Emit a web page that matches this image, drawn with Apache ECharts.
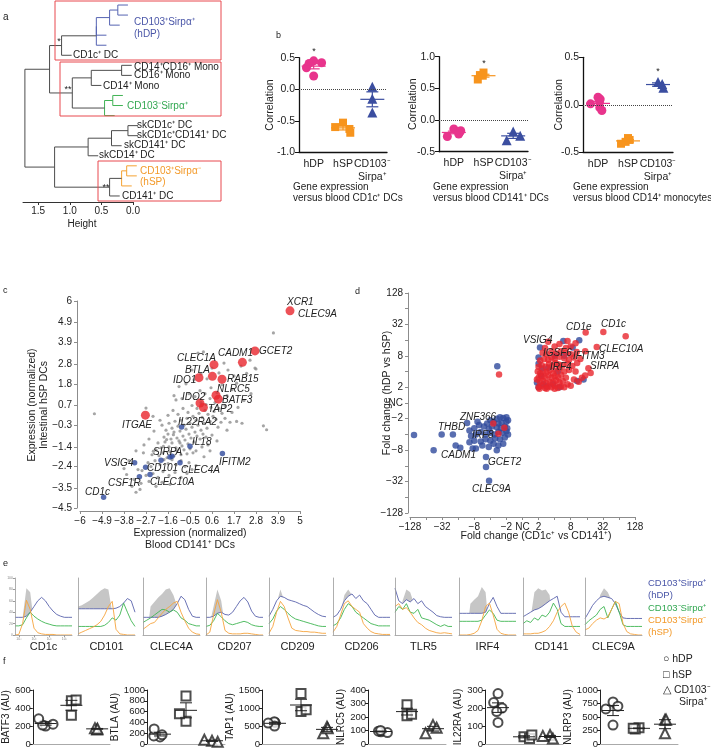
<!DOCTYPE html>
<html><head><meta charset="utf-8">
<script src="https://cdn.jsdelivr.net/npm/echarts@6/dist/echarts.min.js"></script>
<style>html,body{margin:0;padding:0;background:#fff}#c{width:711px;height:750px}</style>
</head><body><div id="c"></div>
<script>
const FONT = "'Liberation Sans', Arial, Helvetica, sans-serif";
const fnt = (s, it) => (it ? 'italic ' : '') + s + 'px ' + FONT;

// ================= DATA =================
// ---- a: dendrogram (20 leaves, merge heights) ----
const dendroNodes = [
  ['n1', 0.24, [0, 1], 'hDP'],
  ['n2', 0.37, ['n1', 2], 'hDP'],
  ['n3', 0.58, ['n2', 3], 'hDP'],
  ['n4', 0.58, ['n3', 4], 'hDP'],
  ['star', 1.13, ['n4', 5], ''],
  ['m1', 0.18, [6, 7], ''],
  ['m2', 0.66, ['m1', 8], ''],
  ['gA', 0.32, [9, 10], 'DN'],
  ['gB', 0.45, ['gA', 11], 'DN'],
  ['dstar', 0.96, ['m2', 'gB'], ''],
  ['upper', 1.32, ['star', 'dstar'], ''],
  ['sA', 0.08, [12, 13], ''],
  ['sB', 0.34, ['sA', 14], ''],
  ['sC', 0.71, ['sB', 15], ''],
  ['oA', 0.10, [16, 17], 'hSP'],
  ['oB', 0.18, ['oA', 18], 'hSP'],
  ['hsp', 0.37, ['oB', 19], ''],
  ['lower', 1.24, ['sC', 'hsp'], ''],
  ['root', 1.71, ['upper', 'lower'], '']
];
const leafHang = 0.16;
const heightTicks = [0, 0.5, 1.0, 1.5];

// ---- b: correlations ----
const bCategories = ['hDP', 'hSP', 'CD103⁻\nSirpa⁺'];
const b1HDP = [0.45, 0.42, 0.41, 0.34, 0.21];
const b1HSP = [-0.53, -0.60, -0.63, -0.69];
const b1DN  = [0.04, -0.15, -0.37];
const b2HDP = [-0.14, -0.17, -0.19, -0.22, -0.26];
const b2HSP = [0.75, 0.71, 0.70, 0.64];
const b2DN  = [-0.18, -0.25, -0.32];
const b3HDP = [0.08, 0.06, 0.03, 0.01, -0.03, -0.06];
const b3HSP = [-0.35, -0.37, -0.39, -0.41];
const b3DN  = [0.24, 0.22, 0.18];
const bYRange = [[-1, 0.5], [-0.5, 1], [-0.5, 0.5]];
const bCaptions = ['versus blood CD1c⁺ DCs', 'versus blood CD141⁺ DCs', 'versus blood CD14⁺ monocytes'];

// ---- c: expression scatter ----
const cXTicks = [-6, -4.9, -3.8, -2.7, -1.6, -0.5, 0.6, 1.7, 2.8, 3.9, 5];
const cYTicks = [-4.5, -3.5, -2.4, -1.4, -0.3, 0.7, 1.8, 2.8, 3.9, 4.9, 6];
const cGray = [
[-5.28,0.28],[-2.70,0.57],[-1.20,0.98],[-1.05,1.66],[0.17,3.42],[-0.10,3.36],[1.40,2.50],[2.50,3.00],[2.75,2.60],[2.80,2.55],[2.33,2.33],[3.67,4.38],[3.33,-0.53],[3.17,-0.33],[1.50,-0.15],[1.83,-0.11],[2.10,-0.20],[1.83,1.83],
[-3.67,-2.80],[-3.00,-3.56],[-3.10,-2.55],[-2.83,-1.70],[-2.33,-1.62],[-1.83,-1.37],[-1.67,-1.03],[-1.33,-0.78],[-1.00,-1.20],
[-1.90,-0.30],[-1.70,-0.55],[-1.55,-0.20],[-1.40,-0.45],[-1.25,-0.10],[-1.10,-0.35],[-0.95,-0.05],[-0.80,-0.30],[-0.65,0.05],[-0.50,-0.20],[-0.35,0.15],[-0.20,-0.05],[-0.05,0.30],[0.10,0.10],[0.25,0.45],[0.40,0.25],[0.55,0.60],[0.70,0.40],
[-1.80,-0.90],[-1.60,-0.75],[-1.45,-1.00],[-1.30,-0.65],[-1.15,-0.95],[-1.00,-0.60],[-0.85,-0.85],[-0.70,-0.50],[-0.55,-0.75],[-0.40,-0.40],[-0.25,-0.65],[-0.10,-0.30],[0.05,-0.55],[0.20,-0.20],[0.35,-0.45],[0.50,-0.10],[0.65,0.15],[0.80,0.00],
[-2.10,-1.20],[-1.95,-1.45],[-1.75,-1.15],[-1.55,-1.40],[-1.40,-1.20],[-1.20,-1.45],[-1.05,-1.10],[-0.90,-1.35],[-0.75,-1.05],[-0.60,-1.25],[-0.45,-0.95],[-0.30,-1.15],[-0.15,-0.85],[0.00,-1.00],[0.15,-0.75],[0.30,-0.90],
[-2.40,-1.80],[-2.20,-1.55],[-2.05,-1.85],[-1.85,-1.70],[-1.65,-1.95],[-1.50,-1.65],[-1.30,-1.85],[-1.15,-1.60],[-0.95,-1.80],[-0.80,-1.55],[-0.65,-1.75],[-0.50,-1.50],[-0.35,-1.70],
[-2.60,-2.20],[-2.45,-2.40],[-2.25,-2.10],[-2.00,-2.30],[-1.80,-2.05],[-1.60,-2.25],[-1.40,-2.05],[-1.20,-2.30],[-0.95,-2.10],[-0.75,-2.40],[-0.55,-2.20],[-0.40,-2.55],[-0.20,-2.35],
[-2.90,-2.60],[-2.70,-2.85],[-2.35,-2.75],[-2.10,-2.95],[-1.85,-2.65],[-1.55,-2.85],[-1.25,-2.70],[-0.95,-2.95],[-0.65,-2.75],
[-3.30,-3.05],[-2.95,-3.25],[-2.55,-3.15],[-2.20,-3.40],[-1.90,-3.20],[-1.50,-3.30],[-3.20,-3.70],
[-1.60,0.20],[-1.35,0.45],[-1.10,0.25],[-0.85,0.55],[-0.60,0.35],[-0.40,0.70],[-0.15,0.55],[0.05,0.85],[0.30,0.75],[0.50,1.05],[0.75,0.85],[0.95,0.55],[1.10,0.30],[1.25,0.70],
[-1.30,1.20],[-0.90,1.05],[-0.55,1.30],[-0.25,1.15],[0.00,1.45],[0.25,1.30],[0.55,1.60],[0.85,1.35],[1.10,1.75],[1.35,1.20],[1.60,1.50],
[-0.70,1.80],[-0.30,2.00],[0.05,2.30],[0.35,2.05],[0.95,2.35],[1.20,2.85],[1.70,2.20],[2.05,2.70],[0.60,2.60],[-0.40,2.50],
[0.90,-0.40],[1.05,-0.15],[1.25,0.05],[1.35,-0.55],[1.60,0.35],[1.90,0.60],[2.20,0.95],[2.55,1.30],[0.60,-0.80],[0.85,-1.10],[0.40,-1.30],[0.10,-1.40],[-0.20,-1.60],[0.20,-1.90],[0.50,-1.60],
[-2.30,-0.60],[-2.55,-1.00],[-2.80,-1.30],[-3.20,-1.60],[-2.00,-0.05],[-2.35,0.15],[-3.55,-2.10],[-3.80,-2.50],[-3.40,-3.40]
];
const cRed = [['XCR1',4.5,5.5],['CLEC9A',5.05,4.89],['GCET2',2.75,3.47],['CADM1',2.12,2.89],['CLEC1A',0.7,2.77],['BTLA',0.62,2.18],['IDO1',-0.05,2.11],['RAB15',1.1,2.03],['NLRC5',0.8,1.22],['BATF3',0.92,1.02],['IDO2',0.0,0.82],['TAP2',0.17,0.6],['ITGAE',-2.73,0.21]];
const cBlue = [['IL22RA2',-0.92,-0.39],['IL18',-0.5,-1.37],['IFITM2',1.12,-1.74],['CLEC4A',-1.0,-2.21],['SIRPA',-1.5,-1.91],['SIRPA',-1.4,-1.87],['CD101',-2.72,-2.43],['CD101',-1.95,-2.08],['VSIG4',-3.27,-2.21],['CLEC10A',-2.5,-2.8],['CSF1R',-3.03,-2.92],['CD1c',-4.82,-3.96]];

// ---- d: fold changes (log2) ----
const dTickValues = [-7, -5, -3, -1, 0, 1, 3, 5, 7];
const dTickLabels = ['−128', '−32', '−8', '−2', 'NC', '2', '8', '32', '128'];
const dRed = [
[-1.46,1.81],[-1.82,-1.31],[-1.50,-1.95],[-1.13,-1.57],
[3.93,4.48],[5.03,4.52],[6.42,4.25],[4.62,3.57],[4.10,2.21],[4.24,1.91],[3.37,3.25],
[1.0,1.0],[1.2,1.1],[1.4,0.95],[1.6,1.05],[1.8,1.0],[2.0,1.1],[2.2,0.95],[2.4,1.05],[2.6,1.0],[1.1,1.3],[1.3,1.4],[1.5,1.25],[1.7,1.35],[1.9,1.3],[2.1,1.45],[2.3,1.3],[2.5,1.4],[2.8,1.2],[3.0,1.1],
[1.0,1.6],[1.2,1.7],[1.4,1.6],[1.6,1.75],[1.8,1.6],[2.0,1.7],[2.2,1.65],[2.4,1.8],[2.7,1.6],[3.2,1.5],[3.5,1.35],[1.1,1.9],[1.3,2.0],[1.5,1.95],[1.7,2.1],[1.9,1.9],[2.1,2.05],[2.3,2.2],[2.6,2.0],[2.9,2.1],[3.3,2.0],[3.7,1.6],[3.9,1.75],
[1.0,2.3],[1.2,2.4],[1.45,2.3],[1.65,2.5],[1.85,2.35],[2.05,2.55],[2.25,2.45],[2.5,2.4],[2.8,2.5],[3.1,2.35],[3.4,2.55],[1.1,2.7],[1.35,2.8],[1.6,2.75],[1.8,2.9],[2.0,2.8],[2.3,2.95],[2.6,2.85],[2.9,2.75],[3.2,2.9],
[3.0,3.1],[2.7,3.2],[2.4,3.3],[2.1,3.15],[1.8,3.3],[1.5,3.1],[1.25,3.2],[1.4,3.5],[2.0,3.6],[2.3,3.75],[2.7,3.5],[3.0,3.6],[1.6,3.9],[2.8,3.95],[3.3,3.8],[0.95,2.0],[0.9,1.5],[1.05,0.9],[1.5,0.9],[2.0,0.9],[3.6,2.8],[3.9,3.3]
];
const dBlue = [
[1.09,3.53],[2.54,3.95],[3.53,3.99],[3.12,3.53],[1.2,2.2],[1.0,2.5],[1.3,1.2],[1.0,1.0],[1.5,1.05],[1.9,1.2],[2.3,1.0],[3.4,1.4],[1.6,2.25],[2.6,3.0],[2.2,2.0],[1.15,1.75],[0.9,1.3],[1.0,2.9],[2.0,3.0],[3.8,1.5],
[-1.57,2.34],
[-1.0,-0.9],[-1.2,-0.95],[-1.4,-0.9],[-1.6,-1.0],[-1.0,-1.2],[-1.3,-1.25],[-1.5,-1.3],[-1.8,-1.2],[-2.0,-1.1],[-2.2,-1.3],[-1.1,-1.5],[-1.35,-1.6],[-1.6,-1.55],[-1.9,-1.5],[-2.1,-1.65],[-2.4,-1.5],[-2.7,-1.4],[-3.0,-1.6],[-1.0,-1.8],[-1.25,-1.9],[-1.5,-1.85],[-1.75,-2.0],[-2.0,-1.9],[-2.3,-2.0],[-2.6,-1.85],[-2.9,-2.0],[-3.2,-2.1],[-1.1,-2.2],[-1.4,-2.3],[-1.7,-2.25],[-2.0,-2.4],[-2.3,-2.3],[-2.6,-2.45],[-3.0,-2.4],[-3.3,-2.5],[-1.2,-2.6],[-1.5,-2.7],[-1.8,-2.6],[-2.1,-2.8],[-2.5,-2.7],[-2.9,-2.9],[-1.6,-3.0],[-2.27,-3.44],[-2.27,-4.08],[-3.87,-2.84],[-4.16,-2.7],[-4.33,-2.0],[-5.03,-2.0],[-6.75,-2.04],[-5.53,-3.01],[-3.45,-1.27],[-2.08,-4.94],[-2.8,-1.2],[-3.3,-1.75],[-3.1,-2.9],[-0.9,-1.1],[-0.95,-1.6],[-0.9,-2.0]
];

// ---- e: flow histograms (16 bins, % of panel height) ----
const eMarkers = ['CD1c','CD101','CLEC4A','CD207','CD209','CD206','TLR5','IRF4','CD141','CLEC9A'];
const eIsotype = [
[0,0,30,82,75,20,0,0,0,0,0,0,0,0,0,0],
[50,52,56,60,66,72,78,82,80,40,0,0,0,0,0,0],
[0,0,50,58,66,72,80,82,70,50,0,0,0,0,0,0],
[0,20,50,80,60,15,0,0,0,0,0,0,0,0,0,0],
[0,20,55,80,60,20,0,0,0,0,0,0,0,0,0,0],
[0,0,40,70,80,70,40,0,0,0,0,0,0,0,0,0],
[0,30,60,80,75,55,30,0,0,0,0,0,0,0,0,0],
[0,0,0,55,62,68,84,75,0,0,0,0,0,0,0,0],
[0,0,30,75,82,78,80,70,0,0,0,0,0,0,0,0],
[0,0,0,40,70,82,75,60,0,0,0,0,0,0,0,0]
];
const eHDP = [
[31,31,31,33,40,50,60,66,60,50,42,36,33,31,31,31],
[46,46,46,46,46,46,46,46,46,46,47,50,56,64,60,40],
[31,31,31,31,31,33,36,40,45,55,68,62,45,33,31,31],
[31,31,33,38,40,36,35,40,50,60,66,58,42,33,31,31],
[33,45,60,68,66,62,60,58,55,52,50,45,40,36,33,32],
[31,35,45,60,68,72,64,70,60,55,45,35,31,31,31,31],
[82,60,55,62,58,64,55,60,50,45,40,34,32,31,31,31],
[38,38,38,38,38,38,38,40,55,66,50,38,38,38,38,38],
[32,36,40,44,46,50,55,60,64,68,40,32,32,32,32,32],
[29,40,52,60,66,68,66,64,55,40,30,29,29,29,29,29]
];
const eDN = [
[16,16,18,30,40,33,28,24,21,19,17,16,16,16,16,16],
[15,15,15,15,15,15,15,17,22,30,26,35,56,40,25,15],
[22,26,30,35,40,45,44,40,44,40,30,26,20,18,16,16],
[15,17,25,38,32,25,20,18,20,22,24,22,18,16,15,15],
[20,28,42,50,45,38,32,28,26,24,22,20,18,16,15,15],
[16,20,30,45,55,50,40,35,30,25,20,18,16,16,16,16],
[40,50,45,55,40,38,45,30,28,26,22,18,15,18,15,15],
[24,24,24,24,24,24,26,35,44,38,26,24,24,24,24,24],
[20,25,22,30,26,35,32,40,56,45,20,15,15,15,15,15],
[18,25,30,35,45,50,30,45,59,40,18,15,15,15,15,15]
];
const eHSP = [
[0,1,20,61,45,12,4,2,1,1,1,0,0,0,0,0],
[2,5,8,11,14,18,24,35,50,59,10,2,1,0,0,0],
[10,15,20,22,30,38,45,50,56,59,40,25,12,5,2,1],
[0,5,35,62,40,8,3,2,2,2,3,3,2,1,0,0],
[3,15,40,59,50,30,12,8,7,6,6,5,5,4,3,3],
[5,15,35,55,60,50,45,40,20,12,6,3,2,1,1,1],
[50,55,45,48,40,30,22,18,12,8,6,4,3,4,3,2],
[0,0,0,1,3,8,25,50,56,35,10,3,1,0,0,0],
[2,2,2,3,3,5,8,15,25,40,50,56,40,15,5,1],
[9,12,20,26,30,28,32,45,59,55,20,6,2,1,0,0]
];

// ---- f: gene expression (AU) ----
const fGenes = ['BATF3','BTLA','TAP1','NLRC5','IL22RA','NLRP3'];
const fAxisMax = [600, 1000, 1500, 400, 300, 1000];
const fAxisStep = [200, 200, 500, 100, 100, 250];
const fHDP = [[200,210,220,280],[130,150,170,280],[600,620,500,580],[90,95,85,100],[280,230,200,120,180],[780,700,650,350]];
const fHSP = [[480,490,320],[890,420,560],[1400,900,950],[290,210,220],[40,30,50],[300,280,290]];
const fDN  = [[160,175,170],[60,40,80],[480,300,440],[140,80,120],[50,30,45],[450,450,200]];

// ================= LAYOUT / STYLE =================
const grids = [], xAxes = [], yAxes = [], series = [], graphics = [];
function addGrid(g, x, y) {
  grids.push(g); const i = grids.length - 1;
  const nz = { onZero: false };
  x.axisLine = Object.assign({}, x.axisLine || {}, nz);
  y.axisLine = Object.assign({}, y.axisLine || {}, nz);
  xAxes.push(Object.assign({ gridIndex: i }, x));
  yAxes.push(Object.assign({ gridIndex: i }, y));
  return i;
}
function text(x, y, s, o) {
  o = o || {};
  graphics.push({ type: 'text', x: x, y: y, rotation: o.rot || 0, z: 50,
    style: { text: s, fill: o.color || '#222', font: fnt(o.size || 10, o.italic),
      align: o.align || 'left', verticalAlign: 'middle', lineHeight: o.lh || 12 } });
}
function rect(x, y, w, h, c) {
  graphics.push({ type: 'rect', z: 40, shape: { x: x, y: y, width: w, height: h },
    style: { fill: 'none', stroke: c, lineWidth: 1 } });
}
const mean = a => a.reduce((s, v) => s + v, 0) / a.length;
const sem = a => { const m = mean(a); return Math.sqrt(a.reduce((s, v) => s + (v - m) * (v - m), 0) / (a.length - 1)) / Math.sqrt(a.length); };
function meanSemRenderer(colors, hm, hc, lw) {
  return function (params, api) {
    const g = api.value(0), m = api.value(1), s = api.value(2);
    const c = api.coord([g, m]), t = api.coord([g, m + s]), b = api.coord([g, m - s]);
    const st = () => ({ stroke: colors[g], lineWidth: lw });
    return { type: 'group', children: [
      { type: 'line', shape: { x1: c[0] - hm, y1: c[1], x2: c[0] + hm, y2: c[1] }, style: st() },
      { type: 'line', shape: { x1: c[0], y1: t[1], x2: c[0], y2: b[1] }, style: st() },
      { type: 'line', shape: { x1: c[0] - hc, y1: t[1], x2: c[0] + hc, y2: t[1] }, style: st() },
      { type: 'line', shape: { x1: c[0] - hc, y1: b[1], x2: c[0] + hc, y2: b[1] }, style: st() }
    ] };
  };
}
const lab = { color: '#222', fontSize: 10, fontFamily: FONT };

// ---------- a ----------
(function () {
  const gi = addGrid({ left: 23, top: 0, width: 110, height: 201 },
    { type: 'value', min: 0, max: 1.74, inverse: true, position: 'bottom', offset: 1,
      axisLine: { lineStyle: { color: '#333', width: 1 } }, splitLine: { show: false },
      axisTick: { length: 3, customValues: heightTicks, lineStyle: { color: '#333' } },
      axisLabel: Object.assign({ customValues: heightTicks, margin: 4, formatter: v => v.toFixed(1) }, lab) },
    { type: 'value', min: -0.5, max: 19.5, inverse: true, show: false });
  const groupColor = { '': '#4d4d4d', hDP: '#5563b2', DN: '#41b355', hSP: '#f5a232' };
  const groups = ['', 'hDP', 'DN', 'hSP'];
  const nodes = {}; const segs = [];
  const yOf = k => typeof k === 'number' ? k : nodes[k].y;
  const hOf = (k, ph) => typeof k === 'number' ? ph - leafHang : nodes[k].h;
  dendroNodes.forEach(([id, h, kids, grp]) => {
    const ys = kids.map(yOf); nodes[id] = { h: h, y: (ys[0] + ys[1]) / 2 };
    const gidx = groups.indexOf(grp);
    segs.push([h, Math.min(ys[0], ys[1]), h, Math.max(ys[0], ys[1]), gidx]);
    kids.forEach((k, i) => segs.push([h, ys[i], hOf(k, h), ys[i], gidx]));
  });
  series.push({ type: 'custom', xAxisIndex: gi, yAxisIndex: gi, data: segs, clip: false,
    renderItem: (p, api) => {
      const a = api.coord([api.value(0), api.value(1)]), b = api.coord([api.value(2), api.value(3)]);
      return { type: 'line', shape: { x1: a[0], y1: a[1], x2: b[0], y2: b[1] },
        style: { stroke: groupColor[groups[api.value(4)]], lineWidth: 1 } };
    } });
  rect(55, 1, 166, 59, '#e8484f');
  rect(60, 62, 161, 54, '#e8484f');
  rect(98, 161, 123, 40, '#e8484f');
  const B = '#4a56a8', G = '#33a852', O = '#f39a2a';
  [['CD103⁺Sirpα⁺', 134, 22, B], ['(hDP)', 134, 34, B], ['CD1c⁺ DC', 73, 55], ['CD14⁺CD16⁺ Mono', 134, 67],
   ['CD16⁺ Mono', 134, 75.5], ['CD14⁺ Mono', 103, 86], ['CD103⁻Sirpα⁺', 127, 106, G],
   ['skCD1c⁺ DC', 137, 125], ['skCD1c⁺CD141⁺ DC', 137, 135], ['skCD141⁺ DC', 124, 145], ['skCD14⁺ DC', 99, 155],
   ['CD103⁺Sirpα⁻', 140, 171, O], ['(hSP)', 140, 182, O], ['CD141⁺ DC', 122, 196]]
    .forEach(t => text(t[1], t[2], t[0], { color: t[3] || '#222', size: 10 }));
  text(59, 42, '*', { size: 9, align: 'center' });
  text(68, 90, '**', { size: 9, align: 'center' });
  text(106, 188, '**', { size: 9, align: 'center' });
  text(82, 224, 'Height', { size: 10, align: 'center' });
  text(3, 17, 'a', { size: 10 });
})();

// ---------- b ----------
(function () {
  const boxes = [[299, 57.7, 88, 94.6], [439, 56.7, 89, 95], [583, 57.3, 90, 95]];
  const vals = [[b1HDP, b1HSP, b1DN], [b2HDP, b2HSP, b2DN], [b3HDP, b3HSP, b3DN]];
  const cols = ['#e8348c', '#f7941d', '#3b4ea0'];
  const syms = ['circle', 'rect', 'triangle'];
  const sizes = [9, 8, 10];
  const nameX = [270, 413, 559];
  const capX = [293, 433, 573];
  boxes.forEach((bx, p) => {
    const gi = addGrid({ left: bx[0], top: bx[1], width: bx[2], height: bx[3] },
      { type: 'category', data: bCategories, boundaryGap: true, jitter: 16, jitterOverlap: false, jitterMargin: 1,
        axisLine: { lineStyle: { color: '#111', width: 1.3 } },
        axisTick: { alignWithLabel: true, length: 4, lineStyle: { color: '#111' } },
        axisLabel: Object.assign({ margin: 5, lineHeight: 13, interval: 0 }, lab, { fontSize: 10.5 }) },
      { type: 'value', min: bYRange[p][0], max: bYRange[p][1], interval: 0.5,
        axisLine: { show: true, lineStyle: { color: '#111', width: 1.3 } }, splitLine: { show: false },
        axisTick: { show: true, length: 4, lineStyle: { color: '#111' } },
        axisLabel: Object.assign({ margin: 4, formatter: v => v.toFixed(1) }, lab, { fontSize: 10.5 }) });
    vals[p].forEach((arr, g) => {
      series.push({ type: 'scatter', xAxisIndex: gi, yAxisIndex: gi, symbol: syms[g], symbolSize: sizes[g],
        itemStyle: { color: cols[g], opacity: 1 }, data: arr.map(v => [g, v]), z: 3,
        markLine: g === 0 ? { silent: true, symbol: 'none', label: { show: false },
          lineStyle: { type: 'dotted', color: '#444', width: 1 }, data: [{ yAxis: 0 }] } : undefined });
    });
    series.push({ type: 'custom', xAxisIndex: gi, yAxisIndex: gi, z: 4,
      data: vals[p].map((arr, g) => [g, mean(arr), sem(arr)]),
      renderItem: meanSemRenderer(cols, 12, 6, 1.2) });
    text(nameX[p], bx[1] + bx[3] / 2, 'Correlation', { rot: Math.PI / 2, align: 'center', size: 10.5 });
    text(capX[p], 187, 'Gene expression', { size: 10 });
    text(capX[p], 198.5, bCaptions[p], { size: 10 });
  });
  text(314, 52, '*', { size: 9, align: 'center' });
  text(484, 64, '*', { size: 9, align: 'center' });
  text(658, 72, '*', { size: 9, align: 'center' });
  text(276, 36, 'b', { size: 9 });
})();

// ---------- c ----------
(function () {
  const tickLbl = v => (v < 0 ? '−' : '') + Math.abs(v);
  const gi = addGrid({ left: 80, top: 301, width: 220, height: 207 },
    { type: 'value', min: -6, max: 5, offset: 3, splitLine: { show: false },
      axisLine: { lineStyle: { color: '#8c8c8c' } },
      axisTick: { customValues: cXTicks, length: 3, lineStyle: { color: '#8c8c8c' } },
      axisLabel: Object.assign({ customValues: cXTicks, formatter: tickLbl, margin: 5 }, lab) },
    { type: 'value', min: -4.5, max: 6, offset: 3, splitLine: { show: false },
      axisLine: { show: true, lineStyle: { color: '#8c8c8c' } },
      axisTick: { show: true, customValues: cYTicks, length: 3, lineStyle: { color: '#8c8c8c' } },
      axisLabel: Object.assign({ customValues: cYTicks, formatter: tickLbl, margin: 5 }, lab) });
  series.push({ type: 'scatter', xAxisIndex: gi, yAxisIndex: gi, symbolSize: 3.2, data: cGray,
    itemStyle: { color: '#8e8e8e' } });
  series.push({ type: 'scatter', xAxisIndex: gi, yAxisIndex: gi, symbolSize: 5.5, data: cBlue.map(d => [d[1], d[2]]),
    itemStyle: { color: '#2f4a9c' } });
  series.push({ type: 'scatter', xAxisIndex: gi, yAxisIndex: gi, symbolSize: 9, data: cRed.map(d => [d[1], d[2]]),
    itemStyle: { color: '#e8262d' } });
  const cLabelPos = [['XCR1',287,302],['CLEC9A',298,314],['GCET2',259,351],['CADM1',218,353],['CLEC1A',177,358],
    ['BTLA',185,370],['IDO1',173,380],['RAB15',227,379],['NLRC5',217,389],['BATF3',222,400],['IDO2',182,397],
    ['TAP2',208,409],['IL22RA2',178,422],['ITGAE',122,425],['IL18',192,442],['IFITM2',219,462],['CLEC4A',181,470],
    ['SIRPA',153,452],['CD101',147,468],['VSIG4',104,463],['CLEC10A',150,482],['CSF1R',108,483],['CD1c',85,492]];
  cLabelPos.forEach(t => text(t[1], t[2], t[0], { italic: true, size: 10 }));
  text(32, 405, 'Expression (normalized)', { rot: Math.PI / 2, align: 'center', size: 10.5 });
  text(44, 405, 'Intestinal hSP DCs', { rot: Math.PI / 2, align: 'center', size: 10.5 });
  text(190, 533, 'Expression (normalized)', { align: 'center', size: 10.5 });
  text(190, 545, 'Blood CD141⁺ DCs', { align: 'center', size: 10.5 });
  text(3, 291, 'c', { size: 9 });
})();

// ---------- d ----------
(function () {
  const lbl = v => { const i = dTickValues.indexOf(v); return i >= 0 ? dTickLabels[i] : ''; };
  const minor = [-7,-6,-5,-4,-3,-2,-1,0,1,2,3,4,5,6,7];
  const gi = addGrid({ left: 410, top: 293, width: 225, height: 220 },
    { type: 'value', min: -7, max: 7, offset: 4, splitLine: { show: false },
      axisLine: { lineStyle: { color: '#8c8c8c' } },
      axisTick: { customValues: minor, length: 3, lineStyle: { color: '#8c8c8c' } },
      axisLabel: Object.assign({ customValues: dTickValues, formatter: lbl, margin: 5 }, lab) },
    { type: 'value', min: -7, max: 7, offset: 2, splitLine: { show: false },
      axisLine: { show: true, lineStyle: { color: '#8c8c8c' } },
      axisTick: { show: true, customValues: minor, length: 3, lineStyle: { color: '#8c8c8c' } },
      axisLabel: Object.assign({ customValues: dTickValues, formatter: lbl, margin: 5 }, lab) });
  series.push({ type: 'scatter', xAxisIndex: gi, yAxisIndex: gi, symbolSize: 6.5, data: dBlue,
    itemStyle: { color: '#2f4a9c' } });
  series.push({ type: 'scatter', xAxisIndex: gi, yAxisIndex: gi, symbolSize: 6.5, data: dRed,
    itemStyle: { color: '#e8262d' } });
  [['VSIG4',523,340],['CD1e',566,327],['CD1c',601,324],['CLEC10A',599,349],['IGSF6',543,353],['IFITM3',573,356],
   ['IRF4',550,367],['SIRPA',590,366],['ZNF366',460,417],['THBD',438,427],['IRF8',472,435],['CADM1',441,455],
   ['GCET2',488,462],['CLEC9A',472,489]].forEach(t => text(t[1], t[2], t[0], { italic: true, size: 10 }));
  text(387, 393, 'Fold change (hDP vs hSP)', { rot: Math.PI / 2, align: 'center', size: 10.5 });
  text(536, 536, 'Fold change (CD1c⁺ vs CD141⁺)', { align: 'center', size: 10.5 });
  text(355, 292, 'd', { size: 9 });
})();

// ---------- e ----------
(function () {
  const lefts = [15, 78, 143, 206, 269, 333, 395, 459, 523, 585];
  lefts.forEach((L, p) => {
    const first = p === 0;
    const gi = addGrid({ left: L, top: 578, width: 57, height: 57 },
      { type: 'value', min: 0, max: 15, z: 10, splitLine: { show: false },
        axisLine: { lineStyle: { color: '#9a9a9a', width: 0.8 } },
        axisTick: { show: first, length: 2, customValues: [1, 5, 9, 13], lineStyle: { color: '#9a9a9a' } },
        axisLabel: { show: first, customValues: [1, 5, 9, 13], fontSize: 3.5, color: '#888', margin: 2, formatter: () => '10³' } },
      { type: 'value', min: 0, max: 100, z: 10, splitLine: { show: false },
        axisLine: { show: true, lineStyle: { color: '#9a9a9a', width: 0.8 } },
        axisTick: { show: first, length: 2, lineStyle: { color: '#9a9a9a' } }, interval: 20,
        axisLabel: { show: first, fontSize: 3.5, color: '#888', margin: 2 } });
    const mk = (arr) => arr.map((v, i) => [i, v]);
    series.push({ type: 'line', xAxisIndex: gi, yAxisIndex: gi, data: mk(eIsotype[p]), showSymbol: false,
      lineStyle: { width: 0 }, areaStyle: { color: '#c6c6c6', opacity: 1 } });
    series.push({ type: 'line', xAxisIndex: gi, yAxisIndex: gi, data: mk(eHDP[p]), showSymbol: false,
      lineStyle: { width: 0.9, color: '#5a63ad' }, areaStyle: { color: '#fff', opacity: 1 } });
    series.push({ type: 'line', xAxisIndex: gi, yAxisIndex: gi, data: mk(eDN[p]), showSymbol: false,
      lineStyle: { width: 0.9, color: '#40b552' } });
    series.push({ type: 'line', xAxisIndex: gi, yAxisIndex: gi, data: mk(eHSP[p]), showSymbol: false,
      lineStyle: { width: 0.9, color: '#f6a43c' } });
    text(L + 28.5, 647, eMarkers[p], { align: 'center', size: 11 });
  });
  const B = '#4a56a8', G = '#33a852', O = '#f39a2a';
  text(648, 583, 'CD103⁺Sirpα⁺', { color: B, size: 9.5 });
  text(648, 595, '(hDP)', { color: B, size: 9.5 });
  text(648, 608, 'CD103⁻Sirpα⁺', { color: G, size: 9.5 });
  text(648, 620, 'CD103⁺Sirpα⁻', { color: O, size: 9.5 });
  text(648, 632, '(hSP)', { color: O, size: 9.5 });
  text(3, 564, 'e', { size: 9 });
})();

// ---------- f ----------
(function () {
  const lefts = [32, 147, 262, 368, 485, 600];
  const gaps = [21, 26, 26, 21, 21, 26];
  const syms = ['emptyCircle', 'emptyRect', 'emptyTriangle'];
  const sizes = [9, 9, 10];
  lefts.forEach((L, p) => {
    const gi = addGrid({ left: L, top: 690, width: 78, height: 54 },
      { type: 'category', data: ['hDP', 'hSP', 'DN'], jitter: 16, jitterOverlap: false, jitterMargin: 1,
        axisLine: { lineStyle: { color: '#aaa' } }, axisLabel: { show: false },
        axisTick: { alignWithLabel: true, length: 3, lineStyle: { color: '#aaa' } } },
      { type: 'value', min: 0, max: fAxisMax[p], interval: fAxisStep[p], splitLine: { show: false },
        axisLine: { show: true, lineStyle: { color: '#222' } },
        axisTick: { show: true, length: 3, lineStyle: { color: '#222' } },
        axisLabel: Object.assign({ margin: 2, formatter: v => String(v) }, lab, { fontSize: 9.5 }),
        name: fGenes[p] + ' (AU)', nameLocation: 'middle', nameRotate: 90, nameGap: gaps[p],
        nameTextStyle: { fontSize: 10, color: '#222', fontFamily: FONT } });
    const vals = [fHDP[p], fHSP[p], fDN[p]];
    vals.forEach((arr, g) => series.push({ type: 'scatter', xAxisIndex: gi, yAxisIndex: gi, symbol: syms[g],
      symbolSize: sizes[g], itemStyle: { color: '#222', borderWidth: 1 }, data: arr.map(v => [g, v]) }));
    series.push({ type: 'custom', xAxisIndex: gi, yAxisIndex: gi, z: 4,
      data: vals.map((arr, g) => [g, mean(arr), sem(arr)]),
      renderItem: meanSemRenderer(['#222', '#222', '#222'], 11, 6, 1) });
  });
  text(663, 659, '○ hDP', { size: 10.5 });
  text(663, 675, '□ hSP', { size: 10.5 });
  text(663, 690, '△ CD103⁻', { size: 10.5 });
  text(679, 702, 'Sirpa⁺', { size: 10.5 });
  text(3, 662, 'f', { size: 9 });
})();

const chart = echarts.init(document.getElementById('c'), null, { renderer: 'canvas' });
chart.setOption({
  animation: false,
  backgroundColor: '#fff',
  textStyle: { fontFamily: FONT },
  grid: grids, xAxis: xAxes, yAxis: yAxes, series: series, graphic: graphics
});
</script></body></html>
